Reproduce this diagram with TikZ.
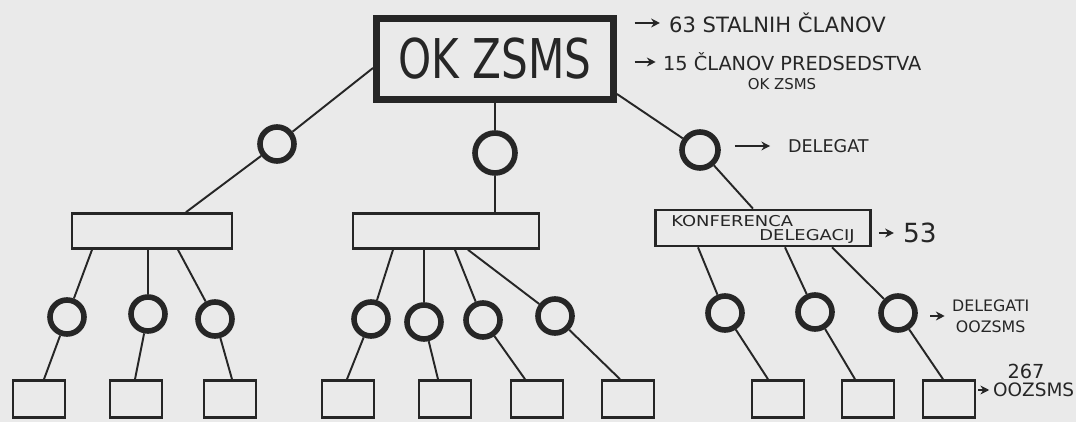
\documentclass[tikz,border=0pt]{standalone}
\usepackage{fontspec}
\setmainfont{DejaVu Sans}
\usepackage{graphicx}
\usepackage{tikz}
\usetikzlibrary{arrows.meta,calc}
\usepackage{xcolor}
\definecolor{InkGray}{HTML}{262626}
\definecolor{PaperGray}{HTML}{EAEAEA}

\tikzset{
  ring/.style={circle,draw=InkGray,line width=3.2pt,minimum size=0.68cm,inner sep=0pt},
  bar/.style={rectangle,draw=InkGray,line width=1.5pt,minimum height=0.7cm,inner sep=0pt},
  cell/.style={rectangle,draw=InkGray,line width=1.5pt,minimum width=1.04cm,minimum height=0.74cm,inner sep=0pt},
  wire/.style={InkGray,line width=1.1pt},
  pointer/.style={InkGray,line width=1.2pt,-{Stealth[length=5pt,width=5pt]}},
  note/.style={text=InkGray,inner sep=1pt},
}

\begin{document}
\begin{tikzpicture}[x=0.02cm,y=-0.02cm]
    \fill[PaperGray] (0,0) rectangle (1076,422);
    \useasboundingbox (0,0) rectangle (1076,422);

    \node[draw=InkGray,line width=4pt,minimum width=4.74cm,minimum height=1.62cm,inner sep=0pt,text=InkGray] (ok) at (495,59) {\fontsize{24}{24}\selectfont\scalebox{1}[1.3]{OK ZSMS}};

    \node[ring] (lc) at (277,144) {};
    \node[ring,minimum size=0.8cm] (mc) at (495,153) {};
    \node[ring,minimum size=0.72cm] (rc) at (700,150) {};

    \node[bar,minimum width=3.2cm] (lrect) at (152,231) {};
    \node[bar,minimum width=3.72cm] (mrect) at (446,231) {};
    \node[bar,minimum width=4.3cm,minimum height=0.72cm,align=left,text=InkGray,text depth=0pt,font=\fontsize{8.5}{8}\selectfont] (krect) at (763,228) {\scalebox{1.2}[1]{KONFERENCA}\\\hspace*{5.9em}\scalebox{1.2}[1]{DELEGACIJ}};

    \coordinate (okl) at ($(ok.west)+(0,9)$);
    \coordinate (okr) at ($(ok.east)+(0,35)$);
    \coordinate (ltop) at (186,0 |- lrect.north);
    \coordinate (ktop) at (753,0 |- krect.north);
    \draw[wire] (okl) -- (lc) (lc) -- (ltop);
    \draw[wire] (ok.south) -- (mc) (mc) -- (mc |- mrect.north);
    \draw[wire] (okr) -- (rc) (rc) -- (ktop);

    \foreach \i/\r/\tx/\cx/\cy/\sx/\bx in
    {1/lrect/92/67/317/44/39,2/lrect/148/148/314/135/136,3/lrect/178/215/319/232/230,
     4/mrect/393/371/319/347/348,5/mrect/424/424/322/438/445,6/mrect/455/483/320/525/537,7/mrect/468/555/316/620/628,
     8/krect/698/725/313/768/778,9/krect/785/815/312/855/868,10/krect/832/898/313/943/949} {
     \node[ring] (c\i) at (\cx,\cy) {};
     \node[cell] (s\i) at (\bx,399) {};
     \coordinate (top\i) at (\tx,0 |- \r.south);
     \coordinate (bot\i) at (\sx,0 |- s\i.north);
     \draw[wire] (top\i) -- (c\i) (c\i) -- (bot\i);
    }

    \node[note,anchor=west,font=\fontsize{12}{12}\selectfont] (stalni) at (667,23) {63 STALNIH ČLANOV};
    \node[note,anchor=west,font=\fontsize{11}{11}\selectfont] (pred) at (661,62) {15 ČLANOV PREDSEDSTVA};
    \node[note,font=\fontsize{8.5}{8.5}\selectfont] (predok) at (782,84) {OK ZSMS};
    \node[note,anchor=west,font=\fontsize{10}{10}\selectfont] (dlg) at (786,146) {DELEGAT};
    \node[note,anchor=west,font=\fontsize{15}{15}\selectfont] (n53) at (901,233) {53};
    \node[note,anchor=west,align=center,font=\fontsize{9}{12}\selectfont] (dlgi) at (950,316) {DELEGATI\\OOZSMS};
    \node[note,font=\fontsize{11}{11}\selectfont] (n267) at (1026,371) {267};
    \node[note,anchor=west,font=\fontsize{10.5}{10.5}\selectfont] (oozsms) at (991,390) {OOZSMS};

    \draw[pointer,shorten <=10pt,shorten >=4pt] (ok.east |- stalni.west) -- (stalni.west);
    \draw[pointer,shorten <=10pt,shorten >=3pt] (ok.east |- pred.west) -- (pred.west);
    \draw[pointer,shorten <=8pt,shorten >=9pt] (rc.east |- dlg.west) -- (dlg.west);
    \draw[pointer,shorten <=4pt,shorten >=4pt] (krect.east |- n53.west) -- (n53.west);
    \draw[pointer,shorten <=7pt,shorten >=3pt] (c10.east |- dlgi.west) -- (dlgi.west);
    \draw[pointer,shorten <=1pt,shorten >=1pt] (s10.east |- oozsms.west) -- (oozsms.west);
\end{tikzpicture}
\end{document}
